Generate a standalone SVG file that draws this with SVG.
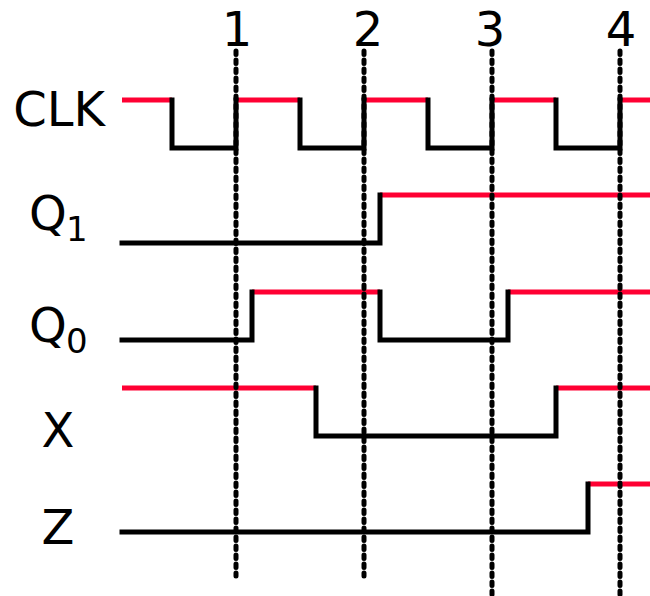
<svg xmlns="http://www.w3.org/2000/svg" width="650" height="596" viewBox="0 0 650 596">
<style>
text{font-family:"DejaVu Sans","Liberation Sans",sans-serif;fill:#000}
.lbl{font-size:48px;text-anchor:middle}
.q{font-size:48px}
.sub{font-size:34px}
.hi{stroke:#ff0033;stroke-width:5;fill:none;stroke-linecap:butt}
.lo{stroke:#000;stroke-width:5;fill:none;stroke-linecap:square;stroke-linejoin:miter}
.mark{stroke:#000;stroke-width:5;fill:none;stroke-linecap:round;stroke-dasharray:3.5 5.5}
</style>
<rect width="650" height="596" fill="#fff"/>
<g id="labels">
<text class="lbl" x="59" y="126">CLK</text>
<text class="q" x="29" y="230">Q</text><text class="sub" x="66" y="241">1</text>
<text class="q" x="29" y="342">Q</text><text class="sub" x="66" y="353">0</text>
<text class="lbl" x="58" y="447">X</text>
<text class="lbl" x="58" y="544">Z</text>
</g>
<g id="clk">
<path class="hi" d="M122,100H172M236,100H300M364,100H428M492,100H556M620,100H650"/>
<path class="lo" d="M172,100V148H236V100M300,100V148H364V100M428,100V148H492V100M556,100V148H620V100"/>
</g>
<g id="q1">
<path class="hi" d="M380,195H650"/>
<path class="lo" d="M122,243H380V195"/>
</g>
<g id="q0">
<path class="hi" d="M252,292H380M508,292H650"/>
<path class="lo" d="M122,340H252V292M380,292V340H508V292"/>
</g>
<g id="x">
<path class="hi" d="M122,388H316M556,388H650"/>
<path class="lo" d="M316,388V436H556V388"/>
</g>
<g id="z">
<path class="hi" d="M588,484H650"/>
<path class="lo" d="M122,532H588V484"/>
</g>
<g id="markers">
<path class="mark" d="M236,51V576M364,51V576M492,51V600M620,51V600"/>
<text class="lbl" x="237" y="46">1</text>
<text class="lbl" x="368" y="46">2</text>
<text class="lbl" x="490" y="46">3</text>
<text class="lbl" x="621" y="46">4</text>
</g>
</svg>
